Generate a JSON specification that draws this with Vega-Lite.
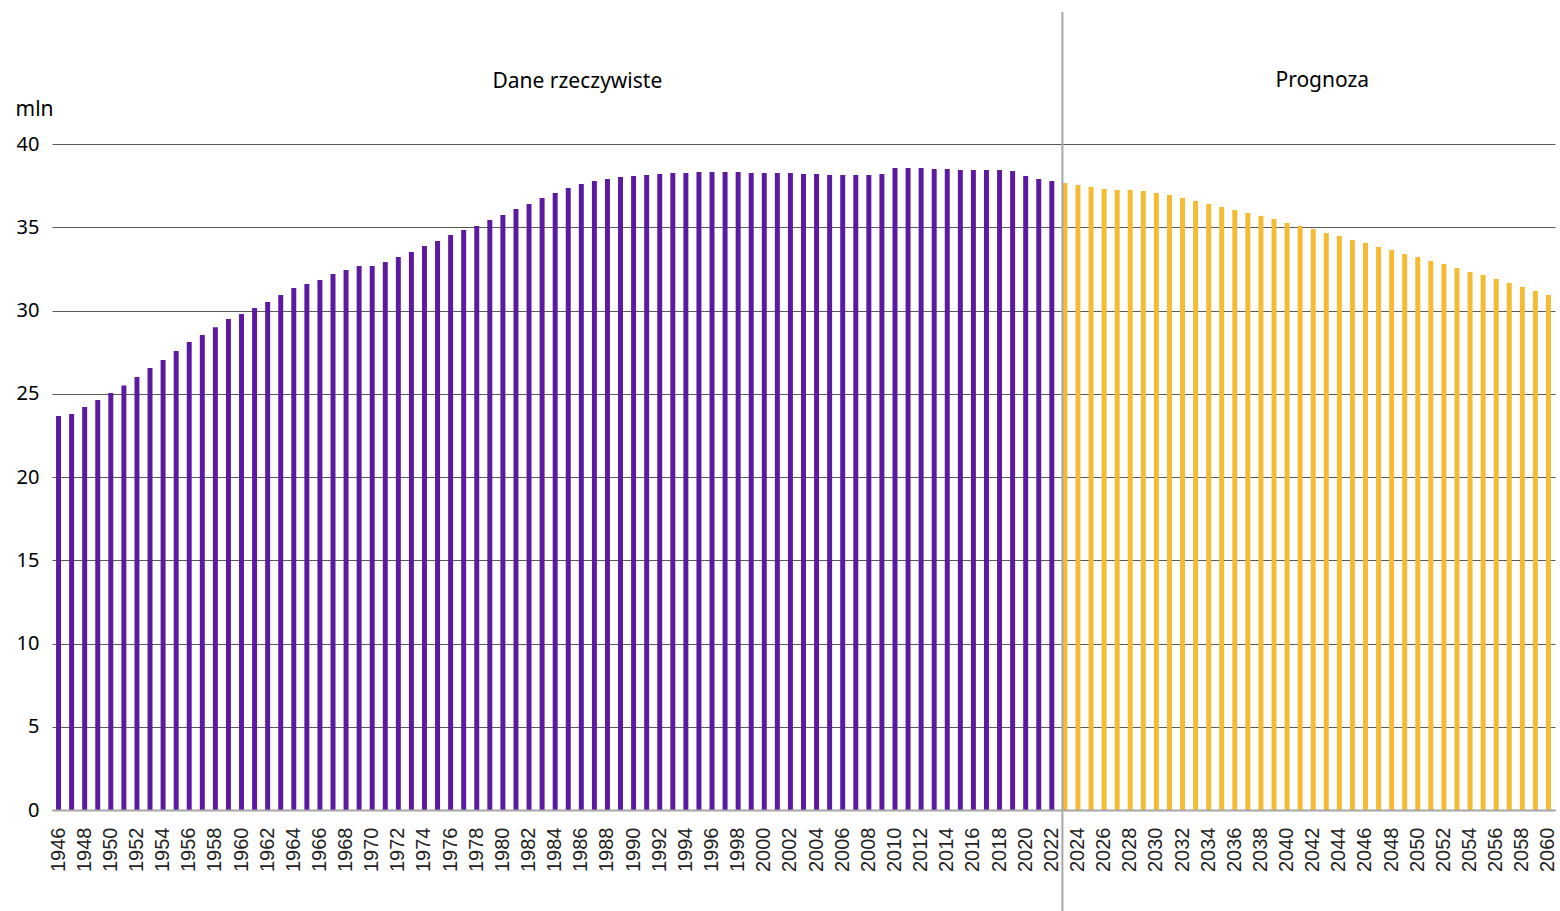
{
  "$schema": "https://vega.github.io/schema/vega-lite/v6.json",
  "width": 1503,
  "height": 666,
  "autosize": {"type": "none"},
  "padding": {"left": 52, "top": 144, "right": 5, "bottom": 101},
  "background": "white",
  "config": {"view": {"stroke": null}},
  "data": {"values": [
    {"rok":1946,"ludnosc":23.66,"typ":"Dane rzeczywiste"},
    {"rok":1947,"ludnosc":23.78,"typ":"Dane rzeczywiste"},
    {"rok":1948,"ludnosc":24.2,"typ":"Dane rzeczywiste"},
    {"rok":1949,"ludnosc":24.62,"typ":"Dane rzeczywiste"},
    {"rok":1950,"ludnosc":25.05,"typ":"Dane rzeczywiste"},
    {"rok":1951,"ludnosc":25.5,"typ":"Dane rzeczywiste"},
    {"rok":1952,"ludnosc":26.0,"typ":"Dane rzeczywiste"},
    {"rok":1953,"ludnosc":26.55,"typ":"Dane rzeczywiste"},
    {"rok":1954,"ludnosc":27.03,"typ":"Dane rzeczywiste"},
    {"rok":1955,"ludnosc":27.57,"typ":"Dane rzeczywiste"},
    {"rok":1956,"ludnosc":28.11,"typ":"Dane rzeczywiste"},
    {"rok":1957,"ludnosc":28.53,"typ":"Dane rzeczywiste"},
    {"rok":1958,"ludnosc":29.0,"typ":"Dane rzeczywiste"},
    {"rok":1959,"ludnosc":29.49,"typ":"Dane rzeczywiste"},
    {"rok":1960,"ludnosc":29.79,"typ":"Dane rzeczywiste"},
    {"rok":1961,"ludnosc":30.15,"typ":"Dane rzeczywiste"},
    {"rok":1962,"ludnosc":30.51,"typ":"Dane rzeczywiste"},
    {"rok":1963,"ludnosc":30.93,"typ":"Dane rzeczywiste"},
    {"rok":1964,"ludnosc":31.35,"typ":"Dane rzeczywiste"},
    {"rok":1965,"ludnosc":31.59,"typ":"Dane rzeczywiste"},
    {"rok":1966,"ludnosc":31.83,"typ":"Dane rzeczywiste"},
    {"rok":1967,"ludnosc":32.19,"typ":"Dane rzeczywiste"},
    {"rok":1968,"ludnosc":32.43,"typ":"Dane rzeczywiste"},
    {"rok":1969,"ludnosc":32.67,"typ":"Dane rzeczywiste"},
    {"rok":1970,"ludnosc":32.67,"typ":"Dane rzeczywiste"},
    {"rok":1971,"ludnosc":32.91,"typ":"Dane rzeczywiste"},
    {"rok":1972,"ludnosc":33.21,"typ":"Dane rzeczywiste"},
    {"rok":1973,"ludnosc":33.51,"typ":"Dane rzeczywiste"},
    {"rok":1974,"ludnosc":33.87,"typ":"Dane rzeczywiste"},
    {"rok":1975,"ludnosc":34.17,"typ":"Dane rzeczywiste"},
    {"rok":1976,"ludnosc":34.53,"typ":"Dane rzeczywiste"},
    {"rok":1977,"ludnosc":34.83,"typ":"Dane rzeczywiste"},
    {"rok":1978,"ludnosc":35.07,"typ":"Dane rzeczywiste"},
    {"rok":1979,"ludnosc":35.44,"typ":"Dane rzeczywiste"},
    {"rok":1980,"ludnosc":35.74,"typ":"Dane rzeczywiste"},
    {"rok":1981,"ludnosc":36.1,"typ":"Dane rzeczywiste"},
    {"rok":1982,"ludnosc":36.4,"typ":"Dane rzeczywiste"},
    {"rok":1983,"ludnosc":36.76,"typ":"Dane rzeczywiste"},
    {"rok":1984,"ludnosc":37.06,"typ":"Dane rzeczywiste"},
    {"rok":1985,"ludnosc":37.36,"typ":"Dane rzeczywiste"},
    {"rok":1986,"ludnosc":37.6,"typ":"Dane rzeczywiste"},
    {"rok":1987,"ludnosc":37.78,"typ":"Dane rzeczywiste"},
    {"rok":1988,"ludnosc":37.9,"typ":"Dane rzeczywiste"},
    {"rok":1989,"ludnosc":38.02,"typ":"Dane rzeczywiste"},
    {"rok":1990,"ludnosc":38.08,"typ":"Dane rzeczywiste"},
    {"rok":1991,"ludnosc":38.14,"typ":"Dane rzeczywiste"},
    {"rok":1992,"ludnosc":38.2,"typ":"Dane rzeczywiste"},
    {"rok":1993,"ludnosc":38.26,"typ":"Dane rzeczywiste"},
    {"rok":1994,"ludnosc":38.26,"typ":"Dane rzeczywiste"},
    {"rok":1995,"ludnosc":38.32,"typ":"Dane rzeczywiste"},
    {"rok":1996,"ludnosc":38.32,"typ":"Dane rzeczywiste"},
    {"rok":1997,"ludnosc":38.32,"typ":"Dane rzeczywiste"},
    {"rok":1998,"ludnosc":38.32,"typ":"Dane rzeczywiste"},
    {"rok":1999,"ludnosc":38.26,"typ":"Dane rzeczywiste"},
    {"rok":2000,"ludnosc":38.26,"typ":"Dane rzeczywiste"},
    {"rok":2001,"ludnosc":38.26,"typ":"Dane rzeczywiste"},
    {"rok":2002,"ludnosc":38.26,"typ":"Dane rzeczywiste"},
    {"rok":2003,"ludnosc":38.2,"typ":"Dane rzeczywiste"},
    {"rok":2004,"ludnosc":38.2,"typ":"Dane rzeczywiste"},
    {"rok":2005,"ludnosc":38.14,"typ":"Dane rzeczywiste"},
    {"rok":2006,"ludnosc":38.14,"typ":"Dane rzeczywiste"},
    {"rok":2007,"ludnosc":38.14,"typ":"Dane rzeczywiste"},
    {"rok":2008,"ludnosc":38.14,"typ":"Dane rzeczywiste"},
    {"rok":2009,"ludnosc":38.2,"typ":"Dane rzeczywiste"},
    {"rok":2010,"ludnosc":38.56,"typ":"Dane rzeczywiste"},
    {"rok":2011,"ludnosc":38.56,"typ":"Dane rzeczywiste"},
    {"rok":2012,"ludnosc":38.56,"typ":"Dane rzeczywiste"},
    {"rok":2013,"ludnosc":38.5,"typ":"Dane rzeczywiste"},
    {"rok":2014,"ludnosc":38.5,"typ":"Dane rzeczywiste"},
    {"rok":2015,"ludnosc":38.44,"typ":"Dane rzeczywiste"},
    {"rok":2016,"ludnosc":38.44,"typ":"Dane rzeczywiste"},
    {"rok":2017,"ludnosc":38.44,"typ":"Dane rzeczywiste"},
    {"rok":2018,"ludnosc":38.44,"typ":"Dane rzeczywiste"},
    {"rok":2019,"ludnosc":38.38,"typ":"Dane rzeczywiste"},
    {"rok":2020,"ludnosc":38.08,"typ":"Dane rzeczywiste"},
    {"rok":2021,"ludnosc":37.9,"typ":"Dane rzeczywiste"},
    {"rok":2022,"ludnosc":37.78,"typ":"Dane rzeczywiste"},
    {"rok":2023,"ludnosc":37.66,"typ":"Prognoza"},
    {"rok":2024,"ludnosc":37.54,"typ":"Prognoza"},
    {"rok":2025,"ludnosc":37.42,"typ":"Prognoza"},
    {"rok":2026,"ludnosc":37.3,"typ":"Prognoza"},
    {"rok":2027,"ludnosc":37.24,"typ":"Prognoza"},
    {"rok":2028,"ludnosc":37.24,"typ":"Prognoza"},
    {"rok":2029,"ludnosc":37.18,"typ":"Prognoza"},
    {"rok":2030,"ludnosc":37.06,"typ":"Prognoza"},
    {"rok":2031,"ludnosc":36.94,"typ":"Prognoza"},
    {"rok":2032,"ludnosc":36.76,"typ":"Prognoza"},
    {"rok":2033,"ludnosc":36.58,"typ":"Prognoza"},
    {"rok":2034,"ludnosc":36.4,"typ":"Prognoza"},
    {"rok":2035,"ludnosc":36.22,"typ":"Prognoza"},
    {"rok":2036,"ludnosc":36.04,"typ":"Prognoza"},
    {"rok":2037,"ludnosc":35.86,"typ":"Prognoza"},
    {"rok":2038,"ludnosc":35.68,"typ":"Prognoza"},
    {"rok":2039,"ludnosc":35.5,"typ":"Prognoza"},
    {"rok":2040,"ludnosc":35.26,"typ":"Prognoza"},
    {"rok":2041,"ludnosc":35.07,"typ":"Prognoza"},
    {"rok":2042,"ludnosc":34.89,"typ":"Prognoza"},
    {"rok":2043,"ludnosc":34.65,"typ":"Prognoza"},
    {"rok":2044,"ludnosc":34.47,"typ":"Prognoza"},
    {"rok":2045,"ludnosc":34.23,"typ":"Prognoza"},
    {"rok":2046,"ludnosc":34.05,"typ":"Prognoza"},
    {"rok":2047,"ludnosc":33.81,"typ":"Prognoza"},
    {"rok":2048,"ludnosc":33.63,"typ":"Prognoza"},
    {"rok":2049,"ludnosc":33.39,"typ":"Prognoza"},
    {"rok":2050,"ludnosc":33.21,"typ":"Prognoza"},
    {"rok":2051,"ludnosc":32.97,"typ":"Prognoza"},
    {"rok":2052,"ludnosc":32.79,"typ":"Prognoza"},
    {"rok":2053,"ludnosc":32.55,"typ":"Prognoza"},
    {"rok":2054,"ludnosc":32.31,"typ":"Prognoza"},
    {"rok":2055,"ludnosc":32.13,"typ":"Prognoza"},
    {"rok":2056,"ludnosc":31.89,"typ":"Prognoza"},
    {"rok":2057,"ludnosc":31.65,"typ":"Prognoza"},
    {"rok":2058,"ludnosc":31.41,"typ":"Prognoza"},
    {"rok":2059,"ludnosc":31.17,"typ":"Prognoza"},
    {"rok":2060,"ludnosc":30.93,"typ":"Prognoza"}
  ]},
  "layer": [
    {
      "mark": {"type": "bar"},
      "encoding": {
        "x": {
          "field": "rok", "type": "ordinal",
          "scale": {"paddingInner": 0.62, "paddingOuter": 0.31},
          "axis": {
            "title": null,
            "labelAngle": -90,
            "labelExpr": "datum.value % 2 == 0 ? datum.label : ''",
            "labelFont": "Liberation Sans",
            "labelFontSize": 20,
            "labelColor": "#222222",
            "labelPadding": 17,
            "ticks": false,
            "domainColor": "#a6a6a6",
            "domainWidth": 2,
            "zindex": 1
          }
        },
        "y": {
          "field": "ludnosc", "type": "quantitative",
          "scale": {"domain": [0, 40], "nice": false},
          "axis": {
            "values": [0, 5, 10, 15, 20, 25, 30, 35, 40],
            "title": "mln",
            "titleAngle": 0,
            "titleAlign": "left",
            "titleBaseline": "alphabetic",
            "titleX": -37,
            "titleY": -29,
            "titleFont": "Noto Sans",
            "titleFontSize": 21,
            "titleFontWeight": "normal",
            "titleColor": "#000000",
            "labelFont": "Noto Sans",
            "labelFontSize": 20,
            "labelColor": "#000000",
            "labelPadding": 13,
            "ticks": false,
            "domain": false,
            "grid": true,
            "gridColor": "#595959",
            "gridWidth": 1
          }
        },
        "color": {
          "field": "typ", "type": "nominal",
          "scale": {"domain": ["Dane rzeczywiste", "Prognoza"], "range": ["#5c1aa0", "#f4bb33"]},
          "legend": null
        }
      }
    },
    {
      "data": {"values": [{"rok": 2023, "od": -6.5, "do": 47.93}]},
      "mark": {"type": "rule", "color": "#a6a6a6", "strokeWidth": 2},
      "encoding": {
        "x": {"field": "rok", "type": "ordinal", "bandPosition": 0},
        "y": {"field": "od", "type": "quantitative"},
        "y2": {"field": "do"}
      }
    },
    {
      "data": {"values": [
        {"rok": 1986, "poz": 43.35, "etykieta": "Dane rzeczywiste"},
        {"rok": 2043, "poz": 43.45, "etykieta": "Prognoza"}
      ]},
      "mark": {"type": "text", "font": "Noto Sans", "fontSize": 21, "color": "#000000", "baseline": "alphabetic", "align": "center", "dx": -4},
      "encoding": {
        "x": {"field": "rok", "type": "ordinal"},
        "y": {"field": "poz", "type": "quantitative"},
        "text": {"field": "etykieta"}
      }
    }
  ]
}
